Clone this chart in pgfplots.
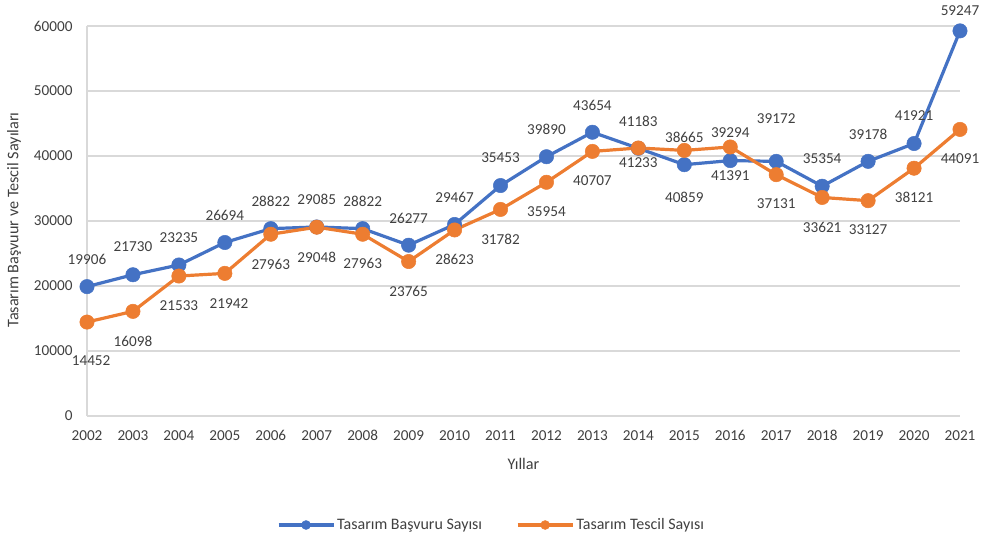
\documentclass[border=0pt]{standalone}
\usepackage{fontspec}
\setmainfont{Carlito}
\usepackage{pgfplots}
\usepackage{pgfplotstable}
\pgfplotsset{compat=1.18}
\definecolor{cblue}{HTML}{4472C4}
\definecolor{corange}{HTML}{ED7D31}
\definecolor{cgrid}{HTML}{D9D9D9}
\definecolor{ctext}{HTML}{404040}

\pgfplotstableread{
x y
2002 19906
2003 21730
2004 23235
2005 26694
2006 28822
2007 29085
2008 28822
2009 26277
2010 29467
2011 35453
2012 39890
2013 43654
2014 41183
2015 38665
2016 39294
2017 39172
2018 35354
2019 39178
2020 41921
2021 59247
}\basvuru

\pgfplotstableread{
x y
2002 14452
2003 16098
2004 21533
2005 21942
2006 27963
2007 29048
2008 27963
2009 23765
2010 28623
2011 31782
2012 35954
2013 40707
2014 41233
2015 40859
2016 41391
2017 37131
2018 33621
2019 33127
2020 38121
2021 44091
}\tescil

% label positions (x, y of label centre, text)
\pgfplotstableread{
x y lab
2002 24154 19906
2003 26000 21730
2004 27385 23235
2005 30923 26694
2006 33077 28822
2007 33385 29085
2008 33077 28822
2009 30462 26277
2010 33692 29467
2011 39692 35453
2012 44154 39890
2013 47846 43654
2014 45385 41183
2015 42923 38665
2016 43538 39294
2017 45692 39172
2018 39538 35354
2019 43385 39178
2020 46154 41921
2021 62308 59247
}\blab

\pgfplotstableread{
x y lab
2002.09 8462 14452
2003 11538 16098
2004 16923 21533
2005.09 17231 21942
2006 23385 27963
2007 24462 29048
2008 23538 27963
2009 19231 23765
2010 24154 28623
2011 27231 31782
2012 31385 35954
2013 36154 40707
2014 38923 41233
2015 33692 40859
2016 36923 41391
2017 32615 37131
2018 29077 33621
2019 28615 33127
2020 33692 38121
2021 39538 44091
}\olab

\begin{document}
\begin{tikzpicture}[font=\fontsize{15}{18}\selectfont]
\useasboundingbox (-87pt,-121pt) rectangle (897pt,416pt);
\begin{axis}[
  scale only axis, width=873pt, height=390pt,
  at={(0pt,0pt)}, anchor=south west,
  xmin=2002, xmax=2021, ymin=0, ymax=60000,
  xtick={2002,2003,...,2021}, ytick={0,10000,...,60000},
  scaled y ticks=false,
  /pgf/number format/assume math mode=true,
  /pgf/number format/1000 sep={},
  tick label style={font=\fontsize{15.2}{18}\selectfont, text=ctext},
  yticklabel style={xshift=-11pt},
  xticklabel style={yshift=-11pt},
  major tick length=0pt,
  axis lines=left,
  axis line style={-, draw=cgrid, line width=1.2pt},
  ymajorgrids, grid style={cgrid, line width=1.2pt},
  clip=false,
  xlabel={Yıllar}, ylabel={Tasarım Başvuur ve Tescil Sayıları},
  label style={font=\fontsize{16.2}{19}\selectfont, text=ctext},
  xlabel style={at={(axis description cs:0.5,-0.123)}, anchor=center},
  ylabel style={at={(axis description cs:-0.0836,0.5026)}, anchor=center},
  legend style={at={(axis description cs:0.4633,-0.2795)}, anchor=center,
    draw=none, fill=none, legend columns=2, text=ctext,
    font=\fontsize{16}{19}\selectfont,
    nodes={inner sep=2pt},
    /tikz/every even column/.append style={column sep=32pt}},
  legend cell align=left,
  legend image code/.code={\draw[mark repeat=2, mark phase=2, #1, mark size=4.5pt] plot coordinates {(0pt,0pt) (27.5pt,0pt) (55pt,0pt)};},
  nodes near coords align=center,
]
\addplot[cblue, line width=3.2pt, line join=round, mark=*, mark size=7.2pt,
  mark options={solid, fill=cblue, draw=cblue, line width=0.5pt}] table[x=x,y=y] {\basvuru};
\addlegendentry{Tasarım Başvuru Sayısı}
\addplot[corange, line width=3.2pt, line join=round, mark=*, mark size=7.2pt,
  mark options={solid, fill=corange, draw=corange, line width=0.5pt}] table[x=x,y=y] {\tescil};
\addlegendentry{Tasarım Tescil Sayısı}
\addplot[draw=none, mark=none, forget plot, nodes near coords, point meta=explicit symbolic,
  every node near coord/.append style={anchor=center, text=ctext, inner sep=0pt, font=\fontsize{15.2}{18}\selectfont}]
  table[x=x,y=y,meta=lab] {\blab};
\addplot[draw=none, mark=none, forget plot, nodes near coords, point meta=explicit symbolic,
  every node near coord/.append style={anchor=center, text=ctext, inner sep=0pt, font=\fontsize{15.2}{18}\selectfont}]
  table[x=x,y=y,meta=lab] {\olab};
\end{axis}
\end{tikzpicture}
\end{document}
